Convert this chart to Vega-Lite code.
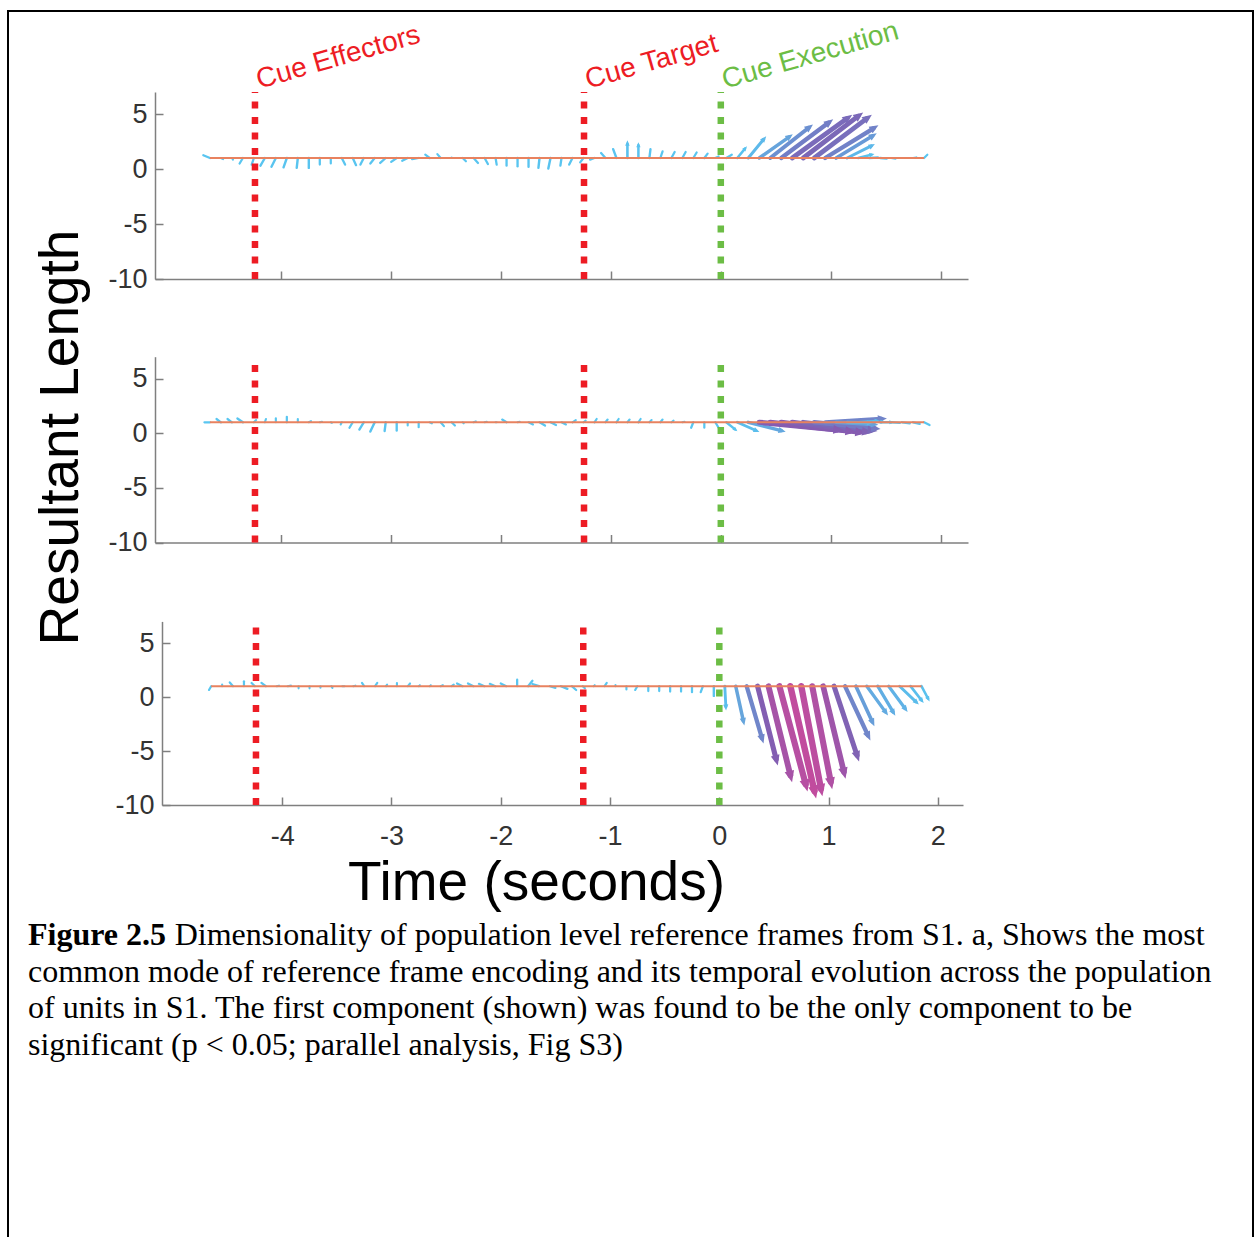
{
  "$schema": "https://vega.github.io/schema/vega-lite/v6.json",
  "width": 1245,
  "height": 1230,
  "autosize": {"type": "none"},
  "padding": {"left": 8, "top": 11, "right": 6, "bottom": -4},
  "background": "white",
  "config": {
    "view": {"stroke": "#000000", "strokeWidth": 2},
    "axis": {
      "grid": false,
      "domainColor": "#7f7f7f",
      "domainWidth": 1.5,
      "tickColor": "#7f7f7f",
      "tickWidth": 1.5,
      "tickSize": -8,
      "labelFont": "Liberation Sans",
      "labelFontSize": 27,
      "labelColor": "#333333",
      "labelFlush": false,
      "labelOverlap": false
    }
  },
  "datasets": {
    "arrows": [
      {"p":1,"x":-4.65,"y":1,"x2":-4.71,"y2":1.25,"m":0.65},
      {"p":1,"x":-4.55,"y":1,"x2":-4.53,"y2":0.9,"m":0.22},
      {"p":1,"x":-4.45,"y":1,"x2":-4.44,"y2":0.85,"m":0.18},
      {"p":1,"x":-4.35,"y":1,"x2":-4.38,"y2":0.5,"m":0.58},
      {"p":1,"x":-4.25,"y":1,"x2":-4.27,"y2":0.4,"m":0.63},
      {"p":1,"x":-4.15,"y":1,"x2":-4.19,"y2":0.3,"m":0.81},
      {"p":1,"x":-4.05,"y":1,"x2":-4.09,"y2":0.2,"m":0.89},
      {"p":1,"x":-3.95,"y":1,"x2":-3.98,"y2":0.15,"m":0.9},
      {"p":1,"x":-3.85,"y":1,"x2":-3.86,"y2":0.1,"m":0.91},
      {"p":1,"x":-3.75,"y":1,"x2":-3.75,"y2":0.1,"m":0.9},
      {"p":1,"x":-3.65,"y":1,"x2":-3.65,"y2":0.4,"m":0.6},
      {"p":1,"x":-3.55,"y":1,"x2":-3.55,"y2":0.5,"m":0.5},
      {"p":1,"x":-3.45,"y":1,"x2":-3.42,"y2":0.4,"m":0.67},
      {"p":1,"x":-3.35,"y":1,"x2":-3.32,"y2":0.35,"m":0.72},
      {"p":1,"x":-3.25,"y":1,"x2":-3.28,"y2":0.4,"m":0.67},
      {"p":1,"x":-3.15,"y":1,"x2":-3.19,"y2":0.5,"m":0.64},
      {"p":1,"x":-3.05,"y":1,"x2":-3.1,"y2":0.55,"m":0.67},
      {"p":1,"x":-2.95,"y":1,"x2":-3.0,"y2":0.65,"m":0.61},
      {"p":1,"x":-2.85,"y":1,"x2":-2.9,"y2":0.75,"m":0.56},
      {"p":1,"x":-2.75,"y":1,"x2":-2.81,"y2":0.9,"m":0.61},
      {"p":1,"x":-2.65,"y":1,"x2":-2.69,"y2":1.3,"m":0.5},
      {"p":1,"x":-2.55,"y":1,"x2":-2.58,"y2":1.35,"m":0.46},
      {"p":1,"x":-2.45,"y":1,"x2":-2.45,"y2":1.05,"m":0.05},
      {"p":1,"x":-2.35,"y":1,"x2":-2.32,"y2":0.7,"m":0.42},
      {"p":1,"x":-2.25,"y":1,"x2":-2.21,"y2":0.55,"m":0.6},
      {"p":1,"x":-2.15,"y":1,"x2":-2.12,"y2":0.45,"m":0.63},
      {"p":1,"x":-2.05,"y":1,"x2":-2.04,"y2":0.4,"m":0.61},
      {"p":1,"x":-1.95,"y":1,"x2":-1.95,"y2":0.3,"m":0.7},
      {"p":1,"x":-1.85,"y":1,"x2":-1.85,"y2":0.25,"m":0.75},
      {"p":1,"x":-1.75,"y":1,"x2":-1.75,"y2":0.2,"m":0.8},
      {"p":1,"x":-1.65,"y":1,"x2":-1.66,"y2":0.1,"m":0.91},
      {"p":1,"x":-1.55,"y":1,"x2":-1.57,"y2":0.05,"m":0.97},
      {"p":1,"x":-1.45,"y":1,"x2":-1.46,"y2":0.3,"m":0.71},
      {"p":1,"x":-1.35,"y":1,"x2":-1.38,"y2":0.4,"m":0.67},
      {"p":1,"x":-1.25,"y":1,"x2":-1.28,"y2":0.6,"m":0.5},
      {"p":1,"x":-1.15,"y":1,"x2":-1.19,"y2":0.85,"m":0.43},
      {"p":1,"x":-1.05,"y":1,"x2":-1.09,"y2":1.45,"m":0.6},
      {"p":1,"x":-0.95,"y":1,"x2":-0.98,"y2":1.8,"m":0.85},
      {"p":1,"x":-0.85,"y":1,"x2":-0.85,"y2":2.3,"m":1.3},
      {"p":1,"x":-0.75,"y":1,"x2":-0.75,"y2":2.15,"m":1.15},
      {"p":1,"x":-0.65,"y":1,"x2":-0.64,"y2":1.8,"m":0.81},
      {"p":1,"x":-0.55,"y":1,"x2":-0.53,"y2":1.6,"m":0.63},
      {"p":1,"x":-0.45,"y":1,"x2":-0.42,"y2":1.55,"m":0.63},
      {"p":1,"x":-0.35,"y":1,"x2":-0.32,"y2":1.55,"m":0.63},
      {"p":1,"x":-0.25,"y":1,"x2":-0.22,"y2":1.5,"m":0.58},
      {"p":1,"x":-0.15,"y":1,"x2":-0.12,"y2":1.4,"m":0.5},
      {"p":1,"x":-0.05,"y":1,"x2":-0.02,"y2":1.15,"m":0.34},
      {"p":1,"x":0.05,"y":1,"x2":0.1,"y2":1.3,"m":0.58},
      {"p":1,"x":0.15,"y":1,"x2":0.22,"y2":1.85,"m":1.1},
      {"p":1,"x":0.25,"y":1,"x2":0.39,"y2":2.7,"m":2.2},
      {"p":1,"x":0.35,"y":1,"x2":0.62,"y2":2.9,"m":3.3},
      {"p":1,"x":0.45,"y":1,"x2":0.8,"y2":3.75,"m":4.45},
      {"p":1,"x":0.55,"y":1,"x2":0.98,"y2":4.2,"m":5.36},
      {"p":1,"x":0.65,"y":1,"x2":1.15,"y2":4.6,"m":6.16},
      {"p":1,"x":0.75,"y":1,"x2":1.25,"y2":4.8,"m":6.28},
      {"p":1,"x":0.85,"y":1,"x2":1.33,"y2":4.6,"m":6.0},
      {"p":1,"x":0.95,"y":1,"x2":1.39,"y2":3.7,"m":5.16},
      {"p":1,"x":1.05,"y":1,"x2":1.38,"y2":3.0,"m":3.86},
      {"p":1,"x":1.15,"y":1,"x2":1.37,"y2":2.1,"m":2.28},
      {"p":1,"x":1.25,"y":1,"x2":1.37,"y2":1.3,"m":1.24},
      {"p":1,"x":1.35,"y":1,"x2":1.43,"y2":1.05,"m":0.8},
      {"p":1,"x":1.45,"y":1,"x2":1.51,"y2":0.95,"m":0.6},
      {"p":1,"x":1.55,"y":1,"x2":1.59,"y2":0.95,"m":0.4},
      {"p":1,"x":1.65,"y":1,"x2":1.69,"y2":1.0,"m":0.4},
      {"p":1,"x":1.75,"y":1,"x2":1.78,"y2":1.05,"m":0.3},
      {"p":1,"x":1.85,"y":1,"x2":1.88,"y2":1.3,"m":0.42},

      {"p":2,"x":-4.65,"y":1,"x2":-4.7,"y2":1.0,"m":0.5},
      {"p":2,"x":-4.55,"y":1,"x2":-4.59,"y2":1.3,"m":0.5},
      {"p":2,"x":-4.45,"y":1,"x2":-4.49,"y2":1.3,"m":0.5},
      {"p":2,"x":-4.35,"y":1,"x2":-4.4,"y2":1.35,"m":0.61},
      {"p":2,"x":-4.25,"y":1,"x2":-4.23,"y2":1.2,"m":0.28},
      {"p":2,"x":-4.15,"y":1,"x2":-4.14,"y2":1.3,"m":0.32},
      {"p":2,"x":-4.05,"y":1,"x2":-4.05,"y2":1.35,"m":0.35},
      {"p":2,"x":-3.95,"y":1,"x2":-3.95,"y2":1.5,"m":0.5},
      {"p":2,"x":-3.85,"y":1,"x2":-3.85,"y2":1.3,"m":0.3},
      {"p":2,"x":-3.75,"y":1,"x2":-3.73,"y2":1.1,"m":0.22},
      {"p":2,"x":-3.65,"y":1,"x2":-3.63,"y2":1.05,"m":0.21},
      {"p":2,"x":-3.55,"y":1,"x2":-3.54,"y2":0.95,"m":0.11},
      {"p":2,"x":-3.45,"y":1,"x2":-3.46,"y2":0.8,"m":0.22},
      {"p":2,"x":-3.35,"y":1,"x2":-3.38,"y2":0.5,"m":0.58},
      {"p":2,"x":-3.25,"y":1,"x2":-3.29,"y2":0.33,"m":0.78},
      {"p":2,"x":-3.15,"y":1,"x2":-3.19,"y2":0.15,"m":0.94},
      {"p":2,"x":-3.05,"y":1,"x2":-3.06,"y2":0.2,"m":0.81},
      {"p":2,"x":-2.95,"y":1,"x2":-2.95,"y2":0.25,"m":0.75},
      {"p":2,"x":-2.85,"y":1,"x2":-2.85,"y2":0.7,"m":0.3},
      {"p":2,"x":-2.75,"y":1,"x2":-2.75,"y2":0.55,"m":0.45},
      {"p":2,"x":-2.65,"y":1,"x2":-2.63,"y2":0.9,"m":0.22},
      {"p":2,"x":-2.55,"y":1,"x2":-2.52,"y2":0.65,"m":0.46},
      {"p":2,"x":-2.45,"y":1,"x2":-2.42,"y2":0.7,"m":0.42},
      {"p":2,"x":-2.35,"y":1,"x2":-2.34,"y2":0.9,"m":0.14},
      {"p":2,"x":-2.25,"y":1,"x2":-2.23,"y2":1.08,"m":0.22},
      {"p":2,"x":-2.15,"y":1,"x2":-2.13,"y2":1.05,"m":0.21},
      {"p":2,"x":-2.05,"y":1,"x2":-2.04,"y2":1.0,"m":0.1},
      {"p":2,"x":-1.95,"y":1,"x2":-1.99,"y2":1.25,"m":0.47},
      {"p":2,"x":-1.85,"y":1,"x2":-1.83,"y2":1.05,"m":0.21},
      {"p":2,"x":-1.75,"y":1,"x2":-1.71,"y2":0.8,"m":0.45},
      {"p":2,"x":-1.65,"y":1,"x2":-1.6,"y2":0.7,"m":0.58},
      {"p":2,"x":-1.55,"y":1,"x2":-1.5,"y2":0.75,"m":0.56},
      {"p":2,"x":-1.45,"y":1,"x2":-1.41,"y2":0.8,"m":0.45},
      {"p":2,"x":-1.35,"y":1,"x2":-1.32,"y2":1.2,"m":0.36},
      {"p":2,"x":-1.25,"y":1,"x2":-1.23,"y2":1.15,"m":0.25},
      {"p":2,"x":-1.15,"y":1,"x2":-1.13,"y2":1.3,"m":0.36},
      {"p":2,"x":-1.05,"y":1,"x2":-1.03,"y2":1.25,"m":0.32},
      {"p":2,"x":-0.95,"y":1,"x2":-0.93,"y2":1.3,"m":0.36},
      {"p":2,"x":-0.85,"y":1,"x2":-0.83,"y2":1.25,"m":0.32},
      {"p":2,"x":-0.75,"y":1,"x2":-0.73,"y2":1.3,"m":0.36},
      {"p":2,"x":-0.65,"y":1,"x2":-0.63,"y2":1.2,"m":0.28},
      {"p":2,"x":-0.55,"y":1,"x2":-0.53,"y2":1.25,"m":0.32},
      {"p":2,"x":-0.45,"y":1,"x2":-0.43,"y2":1.15,"m":0.25},
      {"p":2,"x":-0.35,"y":1,"x2":-0.33,"y2":1.05,"m":0.21},
      {"p":2,"x":-0.25,"y":1,"x2":-0.27,"y2":0.5,"m":0.54},
      {"p":2,"x":-0.15,"y":1,"x2":-0.15,"y2":0.5,"m":0.5},
      {"p":2,"x":-0.05,"y":1,"x2":-0.02,"y2":0.5,"m":0.58},
      {"p":2,"x":0.05,"y":1,"x2":0.13,"y2":0.35,"m":1.0},
      {"p":2,"x":0.15,"y":1,"x2":0.32,"y2":0.25,"m":1.86},
      {"p":2,"x":0.25,"y":1,"x2":0.55,"y2":0.24,"m":3.09},
      {"p":2,"x":0.35,"y":1,"x2":1.06,"y2":0.31,"m":7.13},
      {"p":2,"x":0.45,"y":1,"x2":1.17,"y2":0.18,"m":7.25},
      {"p":2,"x":0.55,"y":1,"x2":1.26,"y2":0.09,"m":7.16},
      {"p":2,"x":0.65,"y":1,"x2":1.32,"y2":0.13,"m":6.76},
      {"p":2,"x":0.75,"y":1,"x2":1.37,"y2":0.27,"m":6.24},
      {"p":2,"x":0.85,"y":1,"x2":1.4,"y2":0.45,"m":5.53},
      {"p":2,"x":0.95,"y":1,"x2":1.46,"y2":1.32,"m":5.11},
      {"p":2,"x":1.05,"y":1,"x2":1.39,"y2":0.8,"m":3.41},
      {"p":2,"x":1.15,"y":1,"x2":1.35,"y2":0.95,"m":2.0},
      {"p":2,"x":1.25,"y":1,"x2":1.42,"y2":1.1,"m":1.7},
      {"p":2,"x":1.35,"y":1,"x2":1.47,"y2":1.05,"m":1.2},
      {"p":2,"x":1.45,"y":1,"x2":1.55,"y2":1.0,"m":1.0},
      {"p":2,"x":1.55,"y":1,"x2":1.63,"y2":0.95,"m":0.8},
      {"p":2,"x":1.65,"y":1,"x2":1.72,"y2":0.9,"m":0.71},
      {"p":2,"x":1.75,"y":1,"x2":1.81,"y2":0.85,"m":0.62},
      {"p":2,"x":1.85,"y":1,"x2":1.9,"y2":0.75,"m":0.56},

      {"p":3,"x":-4.65,"y":1,"x2":-4.67,"y2":0.65,"m":0.4},
      {"p":3,"x":-4.55,"y":1,"x2":-4.55,"y2":1.15,"m":0.15},
      {"p":3,"x":-4.45,"y":1,"x2":-4.48,"y2":1.35,"m":0.46},
      {"p":3,"x":-4.35,"y":1,"x2":-4.35,"y2":1.45,"m":0.45},
      {"p":3,"x":-4.25,"y":1,"x2":-4.28,"y2":1.3,"m":0.42},
      {"p":3,"x":-4.15,"y":1,"x2":-4.19,"y2":1.3,"m":0.5},
      {"p":3,"x":-4.05,"y":1,"x2":-4.03,"y2":1.05,"m":0.21},
      {"p":3,"x":-3.95,"y":1,"x2":-3.92,"y2":1.05,"m":0.3},
      {"p":3,"x":-3.85,"y":1,"x2":-3.85,"y2":0.8,"m":0.2},
      {"p":3,"x":-3.75,"y":1,"x2":-3.75,"y2":0.8,"m":0.2},
      {"p":3,"x":-3.65,"y":1,"x2":-3.65,"y2":0.85,"m":0.15},
      {"p":3,"x":-3.55,"y":1,"x2":-3.54,"y2":0.85,"m":0.18},
      {"p":3,"x":-3.45,"y":1,"x2":-3.43,"y2":1.0,"m":0.2},
      {"p":3,"x":-3.35,"y":1,"x2":-3.33,"y2":1.05,"m":0.21},
      {"p":3,"x":-3.25,"y":1,"x2":-3.27,"y2":1.3,"m":0.36},
      {"p":3,"x":-3.15,"y":1,"x2":-3.13,"y2":1.3,"m":0.36},
      {"p":3,"x":-3.05,"y":1,"x2":-3.04,"y2":1.15,"m":0.18},
      {"p":3,"x":-2.95,"y":1,"x2":-2.95,"y2":1.3,"m":0.3},
      {"p":3,"x":-2.85,"y":1,"x2":-2.83,"y2":1.25,"m":0.32},
      {"p":3,"x":-2.75,"y":1,"x2":-2.74,"y2":1.1,"m":0.14},
      {"p":3,"x":-2.65,"y":1,"x2":-2.64,"y2":1.1,"m":0.14},
      {"p":3,"x":-2.55,"y":1,"x2":-2.53,"y2":1.1,"m":0.22},
      {"p":3,"x":-2.45,"y":1,"x2":-2.43,"y2":1.15,"m":0.25},
      {"p":3,"x":-2.35,"y":1,"x2":-2.4,"y2":1.25,"m":0.56},
      {"p":3,"x":-2.25,"y":1,"x2":-2.3,"y2":1.25,"m":0.56},
      {"p":3,"x":-2.15,"y":1,"x2":-2.2,"y2":1.22,"m":0.55},
      {"p":3,"x":-2.05,"y":1,"x2":-2.1,"y2":1.22,"m":0.55},
      {"p":3,"x":-1.95,"y":1,"x2":-2.0,"y2":1.25,"m":0.56},
      {"p":3,"x":-1.85,"y":1,"x2":-1.85,"y2":1.6,"m":0.6},
      {"p":3,"x":-1.75,"y":1,"x2":-1.71,"y2":1.5,"m":0.64},
      {"p":3,"x":-1.65,"y":1,"x2":-1.71,"y2":1.2,"m":0.63},
      {"p":3,"x":-1.55,"y":1,"x2":-1.5,"y2":0.85,"m":0.52},
      {"p":3,"x":-1.45,"y":1,"x2":-1.39,"y2":0.75,"m":0.65},
      {"p":3,"x":-1.35,"y":1,"x2":-1.31,"y2":0.65,"m":0.53},
      {"p":3,"x":-1.25,"y":1,"x2":-1.23,"y2":0.8,"m":0.28},
      {"p":3,"x":-1.15,"y":1,"x2":-1.14,"y2":1.1,"m":0.14},
      {"p":3,"x":-1.05,"y":1,"x2":-1.03,"y2":1.3,"m":0.36},
      {"p":3,"x":-0.95,"y":1,"x2":-0.95,"y2":1.1,"m":0.1},
      {"p":3,"x":-0.85,"y":1,"x2":-0.85,"y2":0.7,"m":0.3},
      {"p":3,"x":-0.75,"y":1,"x2":-0.77,"y2":0.65,"m":0.4},
      {"p":3,"x":-0.65,"y":1,"x2":-0.65,"y2":0.55,"m":0.45},
      {"p":3,"x":-0.55,"y":1,"x2":-0.55,"y2":0.55,"m":0.45},
      {"p":3,"x":-0.45,"y":1,"x2":-0.45,"y2":0.5,"m":0.5},
      {"p":3,"x":-0.35,"y":1,"x2":-0.35,"y2":0.5,"m":0.5},
      {"p":3,"x":-0.25,"y":1,"x2":-0.25,"y2":0.45,"m":0.55},
      {"p":3,"x":-0.15,"y":1,"x2":-0.17,"y2":0.45,"m":0.59},
      {"p":3,"x":-0.05,"y":1,"x2":-0.05,"y2":0.1,"m":0.9},
      {"p":3,"x":0.05,"y":1,"x2":0.06,"y2":-0.9,"m":1.9},
      {"p":3,"x":0.15,"y":1,"x2":0.22,"y2":-2.2,"m":3.27},
      {"p":3,"x":0.25,"y":1,"x2":0.39,"y2":-3.8,"m":5.0},
      {"p":3,"x":0.35,"y":1,"x2":0.52,"y2":-5.76,"m":6.98},
      {"p":3,"x":0.45,"y":1,"x2":0.65,"y2":-7.24,"m":8.48},
      {"p":3,"x":0.55,"y":1,"x2":0.79,"y2":-8.07,"m":9.37},
      {"p":3,"x":0.65,"y":1,"x2":0.87,"y2":-8.69,"m":9.94},
      {"p":3,"x":0.75,"y":1,"x2":0.93,"y2":-8.48,"m":9.66},
      {"p":3,"x":0.85,"y":1,"x2":1.02,"y2":-7.86,"m":9.02},
      {"p":3,"x":0.95,"y":1,"x2":1.14,"y2":-6.93,"m":8.15},
      {"p":3,"x":1.05,"y":1,"x2":1.26,"y2":-5.39,"m":6.73},
      {"p":3,"x":1.15,"y":1,"x2":1.36,"y2":-3.54,"m":5.01},
      {"p":3,"x":1.25,"y":1,"x2":1.4,"y2":-2.3,"m":3.63},
      {"p":3,"x":1.35,"y":1,"x2":1.52,"y2":-1.38,"m":2.92},
      {"p":3,"x":1.45,"y":1,"x2":1.59,"y2":-1.38,"m":2.76},
      {"p":3,"x":1.55,"y":1,"x2":1.7,"y2":-1.07,"m":2.56},
      {"p":3,"x":1.65,"y":1,"x2":1.8,"y2":-0.45,"m":2.06},
      {"p":3,"x":1.75,"y":1,"x2":1.85,"y2":-0.3,"m":1.64},
      {"p":3,"x":1.85,"y":1,"x2":1.91,"y2":-0.14,"m":1.29}
    ],
    "heads": [
      {"p":1,"x":-0.85,"y":2.3,"m":1.3,"d":0},
      {"p":1,"x":-0.75,"y":2.15,"m":1.15,"d":0},
      {"p":1,"x":0.22,"y":1.85,"m":1.1,"d":39.5},
      {"p":1,"x":0.39,"y":2.7,"m":2.2,"d":39.5},
      {"p":1,"x":0.62,"y":2.9,"m":3.3,"d":54.9},
      {"p":1,"x":0.8,"y":3.75,"m":4.45,"d":51.8},
      {"p":1,"x":0.98,"y":4.2,"m":5.36,"d":53.3},
      {"p":1,"x":1.15,"y":4.6,"m":6.16,"d":54.2},
      {"p":1,"x":1.25,"y":4.8,"m":6.28,"d":52.8},
      {"p":1,"x":1.33,"y":4.6,"m":6.0,"d":53.1},
      {"p":1,"x":1.39,"y":3.7,"m":5.16,"d":58.5},
      {"p":1,"x":1.38,"y":3.0,"m":3.86,"d":58.8},
      {"p":1,"x":1.37,"y":2.1,"m":2.28,"d":61.2},
      {"p":1,"x":1.37,"y":1.3,"m":1.24,"d":76},
      {"p":2,"x":0.13,"y":0.35,"m":1.0,"d":130.5},
      {"p":2,"x":0.32,"y":0.25,"m":1.86,"d":113.8},
      {"p":2,"x":0.55,"y":0.24,"m":3.09,"d":104.2},
      {"p":2,"x":1.06,"y":0.31,"m":7.13,"d":95.6},
      {"p":2,"x":1.17,"y":0.18,"m":7.25,"d":96.5},
      {"p":2,"x":1.26,"y":0.09,"m":7.16,"d":97.3},
      {"p":2,"x":1.32,"y":0.13,"m":6.76,"d":97.4},
      {"p":2,"x":1.37,"y":0.27,"m":6.24,"d":96.7},
      {"p":2,"x":1.4,"y":0.45,"m":5.53,"d":95.7},
      {"p":2,"x":1.46,"y":1.32,"m":5.11,"d":86.4},
      {"p":2,"x":1.39,"y":0.8,"m":3.41,"d":93.4},
      {"p":2,"x":1.35,"y":0.95,"m":2.0,"d":91.4},
      {"p":2,"x":1.42,"y":1.1,"m":1.7,"d":86.6},
      {"p":2,"x":1.47,"y":1.05,"m":1.2,"d":87.6},
      {"p":2,"x":1.55,"y":1.0,"m":1.0,"d":90},
      {"p":3,"x":0.06,"y":-0.9,"m":1.9,"d":177},
      {"p":3,"x":0.22,"y":-2.2,"m":3.27,"d":168},
      {"p":3,"x":0.39,"y":-3.8,"m":5.0,"d":163.5},
      {"p":3,"x":0.52,"y":-5.76,"m":6.98,"d":165.4},
      {"p":3,"x":0.65,"y":-7.24,"m":8.48,"d":166.2},
      {"p":3,"x":0.79,"y":-8.07,"m":9.37,"d":165.3},
      {"p":3,"x":0.87,"y":-8.69,"m":9.94,"d":167},
      {"p":3,"x":0.93,"y":-8.48,"m":9.66,"d":169},
      {"p":3,"x":1.02,"y":-7.86,"m":9.02,"d":169},
      {"p":3,"x":1.14,"y":-6.93,"m":8.15,"d":166.4},
      {"p":3,"x":1.26,"y":-5.39,"m":6.73,"d":161.3},
      {"p":3,"x":1.36,"y":-3.54,"m":5.01,"d":154.6},
      {"p":3,"x":1.4,"y":-2.3,"m":3.63,"d":155.3},
      {"p":3,"x":1.52,"y":-1.38,"m":2.92,"d":144.1},
      {"p":3,"x":1.59,"y":-1.38,"m":2.76,"d":149.2},
      {"p":3,"x":1.7,"y":-1.07,"m":2.56,"d":143.7},
      {"p":3,"x":1.8,"y":-0.45,"m":2.06,"d":134.4},
      {"p":3,"x":1.85,"y":-0.3,"m":1.64,"d":142.2},
      {"p":3,"x":1.91,"y":-0.14,"m":1.29,"d":151.8}
    ],
    "base": [{"x": -4.65, "x2": 1.85, "y": 1}],
    "cues": [
      {"x": -4.24, "y": -10, "y2": 7, "c": "r"},
      {"x": -1.245, "y": -10, "y2": 7, "c": "r"},
      {"x": 0, "y": -10, "y2": 7, "c": "g"}
    ],
    "cuelabels": [
      {"x": -4.24, "y": 7, "text": "Cue Effectors", "c": "r"},
      {"x": -1.245, "y": 7, "text": "Cue Target", "c": "r"},
      {"x": 0, "y": 7, "text": "Cue Execution", "c": "g"}
    ],
    "caption": [
      {"line": 1, "part": "b", "text": "Figure 2.5"},
      {"line": 1, "part": "a", "text": "Dimensionality of population level reference frames from S1. a, Shows the most"},
      {"line": 2, "part": "n", "text": "common mode of reference frame encoding and its temporal evolution across the population"},
      {"line": 3, "part": "n", "text": "of units in S1. The first component (shown) was found to be the only component to be"},
      {"line": 4, "part": "n", "text": "significant (p < 0.05; parallel analysis, Fig S3)"}
    ]
  },
  "layer": [
    {
      "encoding": {
        "x": {"field": "x", "type": "quantitative",
              "scale": {"domain": [-5.15, 2.25], "range": [147, 960], "nice": false, "zero": false},
              "axis": {"orient": "bottom", "offset": -962, "values": [-4, -3, -2, -1, 0, 1, 2], "labels": false, "title": null}},
        "y": {"field": "y", "type": "quantitative",
              "scale": {"domain": [-10, 7], "range": [268, 81], "nice": false, "zero": false},
              "axis": {"orient": "left", "offset": -147, "values": [-10, -5, 0, 5], "labelPadding": 16, "labelExpr": "datum.value + ''", "title": null}}
      },
      "layer": [
        {"data": {"name": "arrows"}, "transform": [{"filter": "datum.p == 1"}],
         "mark": {"type": "rule", "strokeCap": "round"},
         "encoding": {
           "x2": {"field": "x2"}, "y2": {"field": "y2"},
           "color": {"field": "m", "type": "quantitative", "legend": null,
                     "scale": {"domain": [0, 2, 3.3, 5, 6.3, 7.2, 8.5, 10], "range": ["#58c9f2", "#5bbdec", "#66a4dc", "#7086ca", "#7b68b7", "#865bb0", "#a653a7", "#c24c9d"]}},
           "strokeWidth": {"field": "m", "type": "quantitative", "legend": null, "scale": {"domain": [0, 10], "range": [2, 6.5]}}
         }},
        {"data": {"name": "heads"}, "transform": [{"filter": "datum.p == 1"}],
         "mark": {"type": "point", "shape": "M0,-1.2L0.8,0.7L-0.8,0.7Z", "filled": true, "opacity": 1, "strokeWidth": 0},
         "encoding": {
           "color": {"field": "m", "type": "quantitative", "legend": null},
           "size": {"field": "m", "type": "quantitative", "legend": null, "scale": {"domain": [0, 10], "range": [10, 170]}},
           "angle": {"field": "d", "type": "quantitative", "scale": null}
         }},
        {"data": {"name": "base"}, "mark": {"type": "rule", "color": "#e8825f", "strokeWidth": 2}, "encoding": {"x2": {"field": "x2"}}},
        {"data": {"name": "cues"}, "transform": [{"filter": "datum.c == 'r'"}],
         "mark": {"type": "rule", "color": "#ed1c24", "strokeWidth": 6.5, "strokeDash": [7, 8.5]}, "encoding": {"y2": {"field": "y2"}}},
        {"data": {"name": "cues"}, "transform": [{"filter": "datum.c == 'g'"}],
         "mark": {"type": "rule", "color": "#6cbd45", "strokeWidth": 6.5, "strokeDash": [7, 8.5]}, "encoding": {"y2": {"field": "y2"}}},
        {"data": {"name": "cuelabels"}, "transform": [{"filter": "datum.c == 'r'"}],
         "mark": {"type": "text", "align": "left", "baseline": "alphabetic", "angle": -16, "dx": 5, "dy": -2, "font": "Liberation Sans", "fontSize": 28, "color": "#ed1c24"},
         "encoding": {"text": {"field": "text"}}},
        {"data": {"name": "cuelabels"}, "transform": [{"filter": "datum.c == 'g'"}],
         "mark": {"type": "text", "align": "left", "baseline": "alphabetic", "angle": -16, "dx": 5, "dy": -2, "font": "Liberation Sans", "fontSize": 28, "color": "#6cbd45"},
         "encoding": {"text": {"field": "text"}}}
      ]
    },
    {
      "encoding": {
        "x": {"field": "x", "type": "quantitative",
              "scale": {"domain": [-5.15, 2.25], "range": [147, 960], "nice": false, "zero": false},
              "axis": {"orient": "bottom", "offset": -698.5, "values": [-4, -3, -2, -1, 0, 1, 2], "labels": false, "title": null}},
        "y": {"field": "y", "type": "quantitative",
              "scale": {"domain": [-10, 7], "range": [531.5, 345.7], "nice": false, "zero": false},
              "axis": {"orient": "left", "offset": -147, "values": [-10, -5, 0, 5], "labelPadding": 16, "labelExpr": "datum.value + ''",
                       "title": "Resultant Length", "titleFont": "Liberation Sans", "titleFontSize": 55, "titleFontWeight": "normal", "titleColor": "#000000",
                       "titleAngle": 270, "titleAlign": "center", "titleBaseline": "alphabetic", "titleX": -78, "titleY": 426}}
      },
      "layer": [
        {"data": {"name": "arrows"}, "transform": [{"filter": "datum.p == 2"}],
         "mark": {"type": "rule", "strokeCap": "round"},
         "encoding": {
           "x2": {"field": "x2"}, "y2": {"field": "y2"},
           "color": {"field": "m", "type": "quantitative", "legend": null},
           "strokeWidth": {"field": "m", "type": "quantitative", "legend": null}
         }},
        {"data": {"name": "heads"}, "transform": [{"filter": "datum.p == 2"}],
         "mark": {"type": "point", "shape": "M0,-1.2L0.8,0.7L-0.8,0.7Z", "filled": true, "opacity": 1, "strokeWidth": 0},
         "encoding": {
           "color": {"field": "m", "type": "quantitative", "legend": null},
           "size": {"field": "m", "type": "quantitative", "legend": null},
           "angle": {"field": "d", "type": "quantitative", "scale": null}
         }},
        {"data": {"name": "base"}, "mark": {"type": "rule", "color": "#e8825f", "strokeWidth": 2}, "encoding": {"x2": {"field": "x2"}}},
        {"data": {"name": "cues"}, "transform": [{"filter": "datum.c == 'r'"}],
         "mark": {"type": "rule", "color": "#ed1c24", "strokeWidth": 6.5, "strokeDash": [7, 8.5]}, "encoding": {"y2": {"field": "y2"}}},
        {"data": {"name": "cues"}, "transform": [{"filter": "datum.c == 'g'"}],
         "mark": {"type": "rule", "color": "#6cbd45", "strokeWidth": 6.5, "strokeDash": [7, 8.5]}, "encoding": {"y2": {"field": "y2"}}}
      ]
    },
    {
      "encoding": {
        "x": {"field": "x", "type": "quantitative",
              "scale": {"domain": [-5.1, 2.23], "range": [154, 955], "nice": false, "zero": false},
              "axis": {"orient": "bottom", "offset": -436, "values": [-4, -3, -2, -1, 0, 1, 2], "labelPadding": 26, "labelExpr": "datum.value + ''",
                       "title": "Time (seconds)", "titleFont": "Liberation Sans", "titleFontSize": 55, "titleFontWeight": "normal", "titleColor": "#000000",
                       "titleAlign": "center", "titleBaseline": "alphabetic", "titleX": 528, "titleY": 94}},
        "y": {"field": "y", "type": "quantitative",
              "scale": {"domain": [-10, 7], "range": [794, 610.4], "nice": false, "zero": false},
              "axis": {"orient": "left", "offset": -154, "values": [-10, -5, 0, 5], "labelPadding": 16, "labelExpr": "datum.value + ''", "title": null}}
      },
      "layer": [
        {"data": {"name": "arrows"}, "transform": [{"filter": "datum.p == 3"}],
         "mark": {"type": "rule", "strokeCap": "round"},
         "encoding": {
           "x2": {"field": "x2"}, "y2": {"field": "y2"},
           "color": {"field": "m", "type": "quantitative", "legend": null},
           "strokeWidth": {"field": "m", "type": "quantitative", "legend": null}
         }},
        {"data": {"name": "heads"}, "transform": [{"filter": "datum.p == 3"}],
         "mark": {"type": "point", "shape": "M0,-1.2L0.8,0.7L-0.8,0.7Z", "filled": true, "opacity": 1, "strokeWidth": 0},
         "encoding": {
           "color": {"field": "m", "type": "quantitative", "legend": null},
           "size": {"field": "m", "type": "quantitative", "legend": null},
           "angle": {"field": "d", "type": "quantitative", "scale": null}
         }},
        {"data": {"name": "base"}, "mark": {"type": "rule", "color": "#e8825f", "strokeWidth": 2}, "encoding": {"x2": {"field": "x2"}}},
        {"data": {"name": "cues"}, "transform": [{"filter": "datum.c == 'r'"}],
         "mark": {"type": "rule", "color": "#ed1c24", "strokeWidth": 6.5, "strokeDash": [7, 8.5]}, "encoding": {"y2": {"field": "y2"}}},
        {"data": {"name": "cues"}, "transform": [{"filter": "datum.c == 'g'"}],
         "mark": {"type": "rule", "color": "#6cbd45", "strokeWidth": 6.5, "strokeDash": [7, 8.5]}, "encoding": {"y2": {"field": "y2"}}}
      ]
    },
    {
      "data": {"name": "caption"},
      "encoding": {
        "x": {"datum": 0, "type": "quantitative", "scale": {"domain": [0, 1], "range": [20, 1245]}, "axis": null},
        "y": {"field": "line", "type": "quantitative", "scale": {"domain": [1, 4], "range": [934, 1043.5]}, "axis": null},
        "text": {"field": "text"}
      },
      "layer": [
        {"transform": [{"filter": "datum.part == 'b'"}],
         "mark": {"type": "text", "align": "left", "baseline": "alphabetic", "font": "Liberation Serif", "fontSize": 32, "fontWeight": "bold", "color": "#000000"}},
        {"transform": [{"filter": "datum.part == 'a'"}],
         "mark": {"type": "text", "align": "left", "baseline": "alphabetic", "font": "Liberation Serif", "fontSize": 32, "dx": 146.7, "color": "#000000"}},
        {"transform": [{"filter": "datum.part == 'n'"}],
         "mark": {"type": "text", "align": "left", "baseline": "alphabetic", "font": "Liberation Serif", "fontSize": 32, "color": "#000000"}}
      ]
    }
  ],
  "resolve": {
    "scale": {"x": "independent", "y": "independent"},
    "axis": {"x": "independent", "y": "independent"}
  }
}
